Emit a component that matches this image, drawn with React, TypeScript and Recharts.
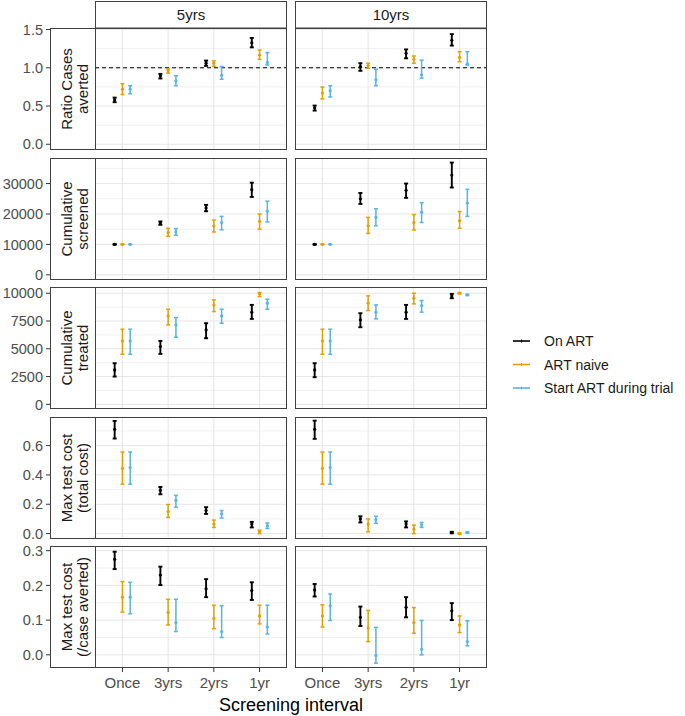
import React from 'react';
import {
  ScatterChart,
  Scatter,
  XAxis,
  YAxis,
  CartesianGrid,
  ErrorBar,
  ReferenceLine,
} from 'recharts';

// [estimate, lower, upper]
type Est = [number, number, number];

const categories = ['Once', '3yrs', '2yrs', '1yr'];
const intervals = ['5yrs', '10yrs'];
const seriesNames = ['On ART', 'ART naive', 'Start ART during trial'];
const seriesColors = ['#000000', '#E69F00', '#56B4E9'];
const dodge = [-0.17, 0, 0.17];

// each array: [On ART, ART naive, Start ART during trial] x [Once, 3yrs, 2yrs, 1yr]
const ratio5yrs: Est[][] = [
  [[0.58, 0.55, 0.61], [0.895, 0.86, 0.92], [1.06, 1.025, 1.094], [1.327, 1.267, 1.39]],
  [[0.72, 0.65, 0.79], [0.96, 0.93, 0.985], [1.06, 1.02, 1.09], [1.167, 1.11, 1.232]],
  [[0.72, 0.66, 0.765], [0.83, 0.765, 0.895], [0.9, 0.85, 1.016], [1.07, 1.037, 1.197]],
];
const ratio10yrs: Est[][] = [
  [[0.476, 0.44, 0.506], [1.016, 0.96, 1.06], [1.19, 1.124, 1.24], [1.36, 1.29, 1.44]],
  [[0.67, 0.592, 0.748], [1.03, 0.994, 1.06], [1.11, 1.06, 1.154], [1.137, 1.08, 1.21]],
  [[0.7, 0.618, 0.765], [0.843, 0.765, 0.98], [0.908, 0.865, 1.1], [1.05, 1.037, 1.21]],
];

const screened5yrs: Est[][] = [
  [[10000, 10000, 10000], [17000, 16450, 17550], [22000, 20900, 23000], [28000, 25600, 30300]],
  [[10000, 10000, 10000], [13900, 12670, 15300], [16100, 14100, 18000], [17600, 15000, 20000]],
  [[10000, 10000, 10000], [14100, 13000, 15200], [17200, 14800, 19200], [20900, 17400, 24200]],
];
const screened10yrs: Est[][] = [
  [[10000, 10000, 10000], [25000, 23300, 26900], [27800, 25300, 30000], [32800, 28700, 36900]],
  [[10000, 10000, 10000], [16100, 13600, 18900], [17200, 14700, 19800], [17800, 15300, 20800]],
  [[10000, 10000, 10000], [18900, 16100, 21700], [20600, 17200, 23700], [23600, 19200, 28100]],
];

const treated5yrs: Est[][] = [
  [[3100, 2500, 3700], [5200, 4540, 5710], [6700, 5950, 7300], [8290, 7690, 8950]],
  [[5710, 4510, 6760], [7960, 7150, 8560], [8950, 8350, 9400], [9940, 9700, 10060]],
  [[5710, 4510, 6760], [7150, 6040, 7810], [7960, 7300, 8560], [9100, 8560, 9460]],
];
const treated10yrs: Est[][] = [
  [[3100, 2440, 3700], [7600, 6940, 8200], [8290, 7690, 8950], [9760, 9550, 9940]],
  [[5710, 4510, 6760], [9100, 8440, 9760], [9550, 9040, 10000], [10000, 9950, 10050]],
  [[5710, 4510, 6760], [8290, 7690, 8950], [8890, 8290, 9340], [9850, 9800, 9900]],
];

const totalCost5yrs: Est[][] = [
  [[0.711, 0.648, 0.768], [0.295, 0.268, 0.318], [0.157, 0.134, 0.18], [0.065, 0.042, 0.08]],
  [[0.445, 0.337, 0.556], [0.15, 0.11, 0.198], [0.065, 0.042, 0.092], [0.012, 0.0, 0.023]],
  [[0.45, 0.337, 0.556], [0.226, 0.18, 0.26], [0.134, 0.106, 0.157], [0.053, 0.035, 0.072]],
];
const totalCost10yrs: Est[][] = [
  [[0.711, 0.646, 0.77], [0.1, 0.076, 0.118], [0.065, 0.042, 0.083], [0.007, 0.002, 0.012]],
  [[0.445, 0.337, 0.556], [0.065, 0.012, 0.1], [0.03, 0.0, 0.058], [0.0, -0.004, 0.004]],
  [[0.45, 0.337, 0.556], [0.095, 0.07, 0.118], [0.06, 0.042, 0.076], [0.007, 0.003, 0.011]],
];

const perCase5yrs: Est[][] = [
  [[0.275, 0.247, 0.297], [0.23, 0.201, 0.254], [0.19, 0.166, 0.218], [0.185, 0.158, 0.209]],
  [[0.166, 0.123, 0.211], [0.122, 0.086, 0.16], [0.105, 0.075, 0.143], [0.112, 0.089, 0.143]],
  [[0.166, 0.118, 0.209], [0.093, 0.067, 0.16], [0.067, 0.05, 0.141], [0.08, 0.06, 0.143]],
];
const perCase10yrs: Est[][] = [
  [[0.187, 0.168, 0.204], [0.108, 0.083, 0.139], [0.137, 0.108, 0.166], [0.127, 0.1, 0.149]],
  [[0.112, 0.08, 0.144], [0.077, 0.038, 0.128], [0.093, 0.062, 0.136], [0.086, 0.064, 0.112]],
  [[0.141, 0.099, 0.175], [-0.002, -0.024, 0.079], [0.016, 0.0, 0.099], [0.038, 0.026, 0.098]],
];

interface RowConfig {
  label: [string, string];
  panels: [Est[][], Est[][]];
  domain: [number, number];
  ticks: number[];
  minor: number[];
  digits: number;
  refLine?: number;
}

const ROWS: RowConfig[] = [
  {
    label: ['Ratio Cases', 'averted'],
    panels: [ratio5yrs, ratio10yrs],
    domain: [-0.075, 1.52],
    ticks: [0, 0.5, 1, 1.5],
    minor: [0.25, 0.75, 1.25],
    digits: 1,
    refLine: 1,
  },
  {
    label: ['Cumulative', 'screened'],
    panels: [screened5yrs, screened10yrs],
    domain: [-1700, 38400],
    ticks: [0, 10000, 20000, 30000],
    minor: [5000, 15000, 25000, 35000],
    digits: 0,
  },
  {
    label: ['Cumulative', 'treated'],
    panels: [treated5yrs, treated10yrs],
    domain: [-420, 10560],
    ticks: [0, 2500, 5000, 7500, 10000],
    minor: [1250, 3750, 6250, 8750],
    digits: 0,
  },
  {
    label: ['Max test cost', '(total cost)'],
    panels: [totalCost5yrs, totalCost10yrs],
    domain: [-0.037, 0.795],
    ticks: [0, 0.2, 0.4, 0.6],
    minor: [0.1, 0.3, 0.5, 0.7],
    digits: 1,
  },
  {
    label: ['Max test cost', '(/case averted)'],
    panels: [perCase5yrs, perCase10yrs],
    domain: [-0.038, 0.3135],
    ticks: [0, 0.1, 0.2, 0.3],
    minor: [0.05, 0.15, 0.25],
    digits: 1,
  },
];

// layout
const FONT = '"Liberation Sans", Arial, sans-serif';
const ROW_TOPS = [28, 158, 287, 417, 546];
const PANEL_H = 122;
const COL_LEFTS = [95, 295];
const PANEL_W = 192;
const X_AXIS_H = 24;
const PAD = 10; // room above/below the panel so edge tick labels are not clipped
const STRIP_X = 50;
const BORDER = '#404040';
const GRID_MAJOR = '#E6E6E6';
const GRID_MINOR = '#F0F0F0';

function toPoints(panel: Est[][], s: number) {
  return panel[s].map(([mid, lo, hi], i) => ({
    x: i + 1 + dodge[s],
    y: mid,
    err: [mid - lo, hi - mid],
  }));
}

function YTick(props: any) {
  const { x, y, payload, digits } = props;
  return (
    <g>
      <line x1={x - 49} x2={x - 45} y1={y} y2={y} stroke="#333" strokeWidth={1} />
      <text
        x={x - 52}
        y={y}
        dy="0.36em"
        textAnchor="end"
        fill="#4D4D4D"
        fontSize={14.5}
        fontFamily={FONT}
      >
        {Number(payload.value).toFixed(digits)}
      </text>
    </g>
  );
}

function Panel({ row, r, c }: { row: RowConfig; r: number; c: number }) {
  const isLeft = c === 0;
  const isBottom = r === ROWS.length - 1;
  const width = isLeft ? COL_LEFTS[0] + PANEL_W : PANEL_W;
  const bottomPad = isBottom ? 0 : PAD;
  const height = PAD + PANEL_H + bottomPad + (isBottom ? X_AXIS_H : 0);
  const panel = row.panels[c];

  return (
    <div style={{ position: 'absolute', left: isLeft ? 0 : COL_LEFTS[1], top: ROW_TOPS[r] - PAD }}>
      <ScatterChart
        width={width}
        height={height}
        margin={{ top: PAD, right: 0, bottom: bottomPad, left: 0 }}
      >
        <CartesianGrid
          horizontalValues={row.minor}
          vertical={false}
          stroke={GRID_MINOR}
          strokeWidth={1}
        />
        <CartesianGrid
          horizontalValues={row.ticks}
          verticalValues={[1, 2, 3, 4]}
          stroke={GRID_MAJOR}
          strokeWidth={1}
        />
        <XAxis
          type="number"
          dataKey="x"
          domain={[0.4, 4.6]}
          ticks={[1, 2, 3, 4]}
          interval={0}
          allowDataOverflow
          hide={!isBottom}
          height={X_AXIS_H}
          axisLine={false}
          tickSize={4}
          tickMargin={5}
          tickLine={{ stroke: '#333' }}
          tick={{ fill: '#4D4D4D', fontSize: 15, fontFamily: FONT }}
          tickFormatter={(v: number) => categories[v - 1]}
        />
        <YAxis
          type="number"
          dataKey="y"
          domain={row.domain}
          ticks={row.ticks}
          interval={0}
          allowDataOverflow
          hide={!isLeft}
          width={COL_LEFTS[0]}
          axisLine={false}
          tickLine={false}
          tickSize={0}
          tickMargin={0}
          tick={(p: any) => <YTick {...p} digits={row.digits} />}
        />
        {row.refLine !== undefined && (
          <ReferenceLine y={row.refLine} stroke="#000" strokeDasharray="4 3" strokeWidth={1} />
        )}
        {seriesNames.map((name, s) => (
          <Scatter
            key={name}
            name={name}
            data={toPoints(panel, s)}
            fill={seriesColors[s]}
            isAnimationActive={false}
            shape={(p: any) => <circle cx={p.cx} cy={p.cy} r={1.6} fill={seriesColors[s]} />}
          >
            <ErrorBar
              dataKey="err"
              direction="y"
              width={2}
              stroke={seriesColors[s]}
              strokeWidth={s === 0 ? 1.9 : 1.5}
              isAnimationActive={false}
            />
          </Scatter>
        ))}
      </ScatterChart>
    </div>
  );
}

export default function App() {
  const legendY = [341, 364.5, 388];
  return (
    <div
      style={{
        position: 'absolute',
        left: 0,
        top: 0,
        width: 685,
        height: 716,
        background: '#fff',
        fontFamily: FONT,
      }}
    >
      {ROWS.map((row, r) => [0, 1].map((c) => <Panel key={`${r}-${c}`} row={row} r={r} c={c} />))}

      <svg
        width={685}
        height={716}
        style={{ position: 'absolute', left: 0, top: 0, pointerEvents: 'none' }}
      >
        {/* panel borders */}
        {ROWS.map((_, r) =>
          COL_LEFTS.map((x) => (
            <rect
              key={`b${r}-${x}`}
              x={x + 0.5}
              y={ROW_TOPS[r] + 0.5}
              width={PANEL_W - 1}
              height={PANEL_H - 1}
              fill="none"
              stroke={BORDER}
            />
          ))
        )}
        {/* top strips */}
        {intervals.map((label, c) => (
          <g key={label}>
            <rect
              x={COL_LEFTS[c] + 0.5}
              y={1.5}
              width={PANEL_W - 1}
              height={ROW_TOPS[0] - 1.5}
              fill="#fff"
              stroke={BORDER}
            />
            <text
              x={COL_LEFTS[c] + PANEL_W / 2}
              y={20}
              textAnchor="middle"
              fontSize={15}
              fill="#1A1A1A"
            >
              {label}
            </text>
          </g>
        ))}
        {/* row strips */}
        {ROWS.map((row, r) => {
          const cx = (STRIP_X + COL_LEFTS[0]) / 2;
          const cy = ROW_TOPS[r] + PANEL_H / 2;
          return (
            <g key={`s${r}`}>
              <rect
                x={STRIP_X + 0.5}
                y={ROW_TOPS[r] + 0.5}
                width={COL_LEFTS[0] - STRIP_X}
                height={PANEL_H - 1}
                fill="#fff"
                stroke={BORDER}
              />
              <text
                transform={`translate(${cx},${cy}) rotate(-90)`}
                textAnchor="middle"
                fontSize={15}
                fill="#1A1A1A"
              >
                <tspan x={0} y={-1}>{row.label[0]}</tspan>
                <tspan x={0} y={15.5}>{row.label[1]}</tspan>
              </text>
            </g>
          );
        })}
        {/* x axis title */}
        <text x={291} y={711} textAnchor="middle" fontSize={18} fill="#000">
          Screening interval
        </text>
        {/* legend */}
        {seriesNames.map((name, s) => (
          <g key={name}>
            <line x1={513} x2={530} y1={legendY[s]} y2={legendY[s]} stroke={seriesColors[s]} strokeWidth={1.6} />
            <line x1={521.5} x2={521.5} y1={legendY[s] - 1.5} y2={legendY[s] + 1.5} stroke={seriesColors[s]} strokeWidth={1} />
            <text x={544} y={legendY[s] + 5} fontSize={14} fill="#1A1A1A">
              {name}
            </text>
          </g>
        ))}
      </svg>
    </div>
  );
}
